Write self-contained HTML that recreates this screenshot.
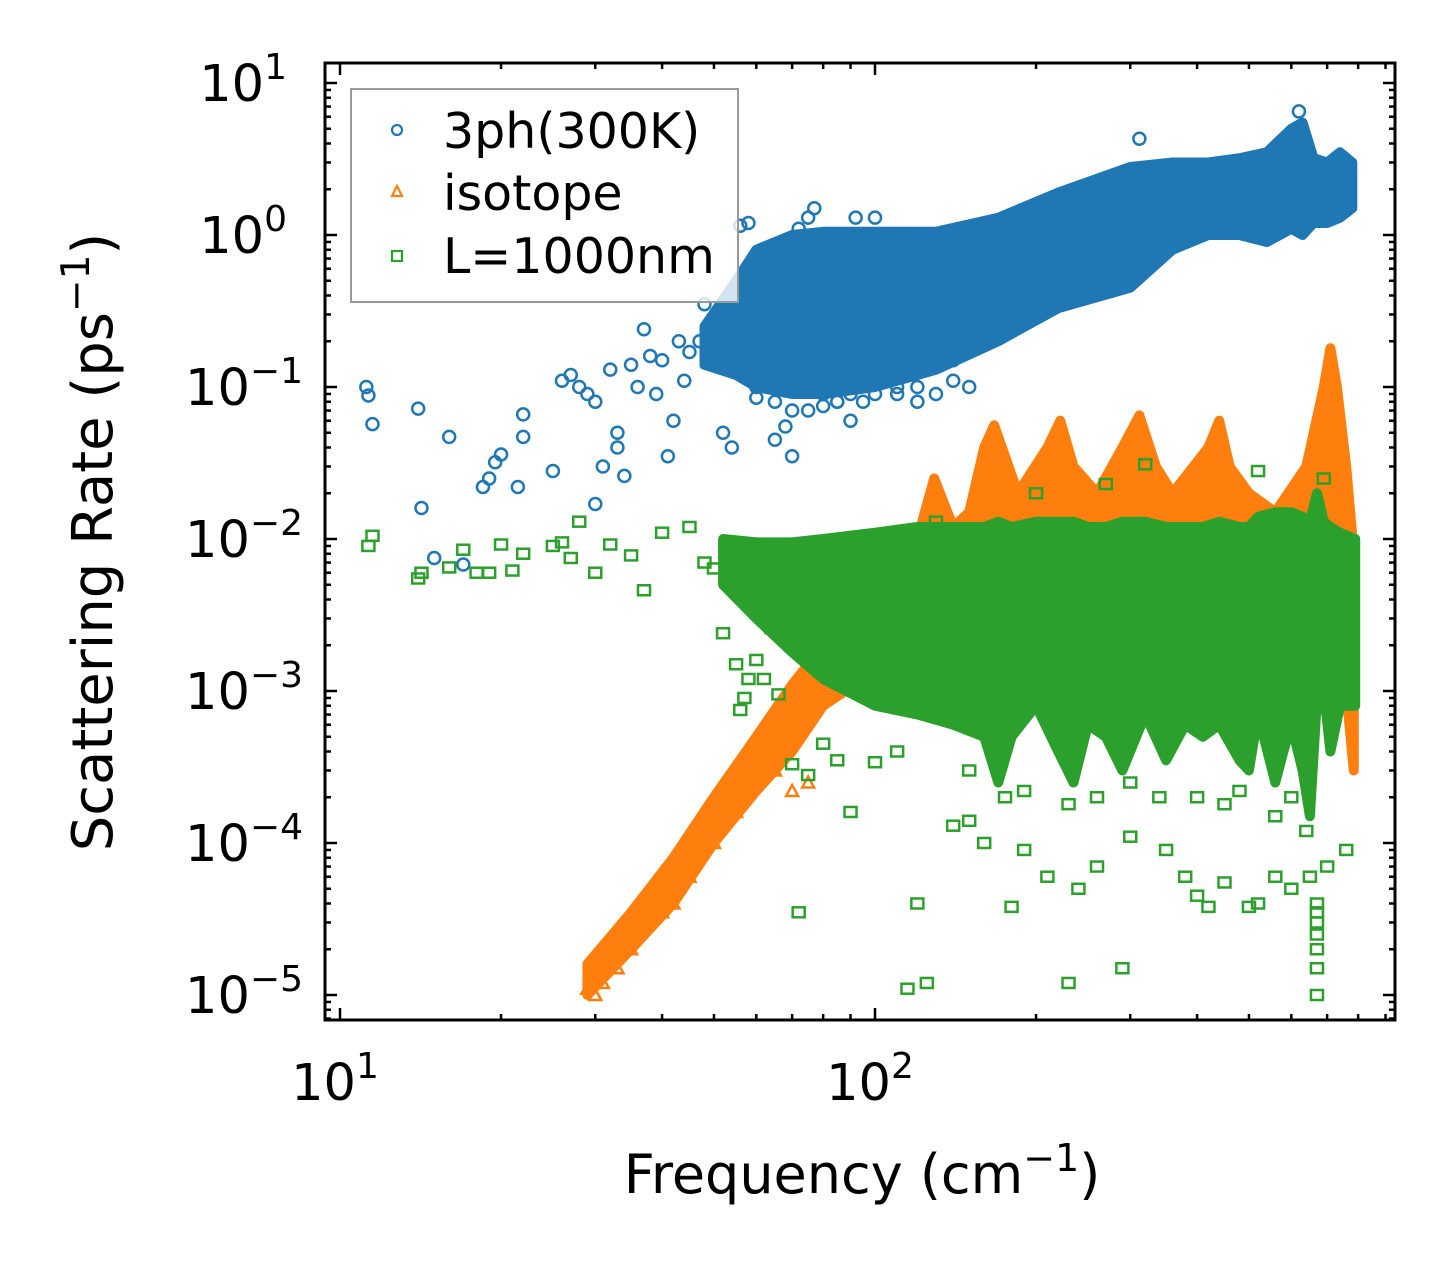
<!DOCTYPE html>
<html><head><meta charset="utf-8"><style>
body{margin:0;background:#fff}
svg text{font-family:"DejaVu Sans","Liberation Sans",sans-serif;fill:#000}
</style></head><body>
<svg id="chart" width="1455" height="1270" viewBox="0 0 1455 1270" xmlns="http://www.w3.org/2000/svg">
<rect width="1455" height="1270" fill="#fff"/>
<g id="bands"></g>
<g id="points"></g>
<g id="axes"></g>
<text x="862" y="1193" font-size="54" text-anchor="middle">Frequency (cm<tspan font-size="38" dy="-22">−1</tspan><tspan dy="22">)</tspan></text>
<text transform="translate(112,542) rotate(-90)" font-size="56" text-anchor="middle">Scattering Rate (ps<tspan font-size="39" dy="-23">−1</tspan><tspan dy="23">)</tspan></text>
<g>
<rect x="351" y="89" width="387" height="213" fill="#fff" fill-opacity="0.8" stroke="#999" stroke-width="2"/>
<circle cx="397" cy="130" r="5" fill="none" stroke="#1f77b4" stroke-width="2.2"/>
<text x="443" y="148" font-size="49">3ph(300K)</text>
<polygon points="397,186 402,196 392,196" fill="none" stroke="#ff7f0e" stroke-width="2.2"/>
<text x="443" y="210" font-size="49">isotope</text>
<rect x="392" y="251" width="10" height="10" fill="none" stroke="#2ca02c" stroke-width="2.2"/>
<text x="443" y="273" font-size="49">L=1000nm</text>
</g>
</svg>
<script>
// ---- data ----
const blueBandFreq=[48,55,60,70,80,100,130,170,220,300,360,420,480,540,600,630,660,700,740,780];
const blueBandHi=[0.25,0.5,0.8,1.0,1.05,1.05,1.05,1.3,1.9,2.8,3.0,3.0,3.2,3.5,5.0,5.5,3.2,3.0,3.5,3.0];
const blueBandLo=[0.14,0.12,0.1,0.09,0.09,0.1,0.13,0.2,0.33,0.45,0.8,1.0,1.0,0.9,1.1,1.0,1.2,1.2,1.3,1.5];
const orangeBandFreq=[29,35,42,50,60,70,80,95,110,120,129,140,150,160,167,175,185,210,222,235,260,290,312,335,360,420,440,460,500,560,640,690,710,730,760,785];
const orangeBandHi=[1.6e-5,3.5e-5,8e-5,2e-4,5e-4,1.1e-3,2e-3,3e-3,5e-3,0.01,0.025,0.012,0.015,0.04,0.056,0.035,0.02,0.04,0.06,0.03,0.02,0.04,0.065,0.03,0.02,0.04,0.06,0.03,0.02,0.015,0.03,0.1,0.18,0.1,0.03,0.008];
const orangeBandLo=[1e-5,2e-5,4e-5,1e-4,2.2e-4,4e-4,8e-4,1.2e-3,1.5e-3,1.5e-3,1.5e-3,1.5e-3,1.5e-3,1.5e-3,1.5e-3,1.5e-3,1.5e-3,1.5e-3,1.5e-3,1.5e-3,1.5e-3,1.5e-3,1.5e-3,1.5e-3,1.5e-3,1.5e-3,1.5e-3,1.5e-3,1.5e-3,1.5e-3,1.5e-3,1.5e-3,1.5e-3,1.5e-3,1e-3,3e-4];
const greenBandFreq=[52,60,70,80,100,120,140,160,170,180,200,220,235,250,270,290,320,350,380,410,440,480,500,520,560,580,600,630,650,670,690,710,740,790];
const greenBandHi=[0.01,0.0095,0.0095,0.01,0.011,0.012,0.012,0.012,0.013,0.012,0.013,0.013,0.013,0.012,0.012,0.013,0.013,0.012,0.012,0.012,0.013,0.012,0.012,0.014,0.015,0.015,0.015,0.014,0.013,0.02,0.013,0.012,0.011,0.01];
const greenBandLo=[0.005,0.003,0.0018,0.0012,0.0008,0.0007,0.0006,0.0005,0.00025,0.0005,0.0008,0.0004,0.00025,0.0006,0.0005,0.0003,0.0007,0.00035,0.0006,0.0005,0.0006,0.00035,0.0003,0.0007,0.00025,0.0004,0.0006,0.0003,0.00015,0.0009,0.001,0.0004,0.0008,0.0008];
const blueFreq=[11.2,11.3,11.5,14,14.2,16,17,15,18.5,19,19.5,20,21.5,22,22,25,26,27,28,29,30,30,31,32,33,33,34,35,36,37,38,39,40,41,42,43,44,45,47,48,50,52,54,55,56,58,60,62,65,68,70,72,75,77,80,85,90,92,100,110,120,140,312,620,60,65,70,75,80,85,90,95,100,110,120,130,140,150];
const blueRate=[0.1,0.088,0.057,0.072,0.016,0.047,0.0068,0.0075,0.022,0.025,0.032,0.036,0.022,0.047,0.066,0.028,0.11,0.12,0.1,0.09,0.08,0.017,0.03,0.13,0.05,0.04,0.026,0.14,0.1,0.24,0.16,0.09,0.15,0.035,0.06,0.2,0.11,0.17,0.2,0.35,0.26,0.05,0.04,0.13,1.15,1.2,0.085,0.15,0.045,0.055,0.035,1.1,1.3,1.5,0.09,0.08,0.06,1.3,1.3,0.1,0.08,0.15,4.3,6.5,0.1,0.08,0.07,0.07,0.075,0.08,0.09,0.08,0.09,0.09,0.1,0.09,0.11,0.1];
const orangeFreq=[29,30,31,33,35,37,40,42,45,50,55,60,65,70,75];
const orangeRate=[1.1e-5,1e-5,1.2e-5,1.5e-5,2e-5,3e-5,3.5e-5,4e-5,6e-5,1e-4,1.6e-4,2.5e-4,3e-4,2.2e-4,2.5e-4];
const greenFreq=[11.3,11.5,14,14.2,16,17,18,19,20,21,22,25,26,27,28,30,32,35,37,40,45,48,50,52,55,56,57,58,60,62,64,66,70,72,75,80,85,90,100,115,120,125,140,150,160,180,190,210,230,240,260,290,300,350,380,400,420,450,500,520,560,600,650,700,760,130,200,270,320,520,690,670,670,670,670,670,670,670,110,150,175,190,230,260,300,340,400,450,480,560,600,640];
const greenRate=[0.009,0.0105,0.0055,0.006,0.0065,0.0085,0.006,0.006,0.0092,0.0062,0.008,0.009,0.0095,0.0075,0.013,0.006,0.0092,0.0078,0.0046,0.011,0.012,0.007,0.0064,0.0024,0.0015,0.00075,0.0009,0.0012,0.0016,0.0012,0.0026,0.00095,0.00033,3.5e-5,0.00028,0.00045,0.00035,0.00016,0.00034,1.1e-5,4e-5,1.2e-5,1.3e-4,1.4e-4,1e-4,3.8e-5,9e-5,6e-5,1.2e-5,5e-5,7e-5,1.5e-5,1.1e-4,9e-5,6e-5,4.5e-5,3.8e-5,5.5e-5,3.8e-5,4e-5,6e-5,5e-5,6e-5,7e-5,9e-5,0.013,0.02,0.023,0.031,0.028,0.025,1e-5,1.5e-5,2e-5,2.5e-5,3e-5,3.5e-5,4e-5,0.0004,0.0003,0.0002,0.00022,0.00018,0.0002,0.00025,0.0002,0.0002,0.00018,0.00022,0.00015,0.0002,0.00012];
const xTickExp=[1,2];
const yTickExp=[1,0,-1,-2,-3,-4,-5];
// ---- scales ----
const L=325,R=1395,T=63,B=1020;
const X=f=>340+535*(Math.log10(f)-1);
const Y=v=>83+152*(1-Math.log10(v));
const NS="http://www.w3.org/2000/svg";
function mk(tag,attrs,parent){const e=document.createElementNS(NS,tag);for(const k in attrs)e.setAttribute(k,attrs[k]);parent.appendChild(e);return e;}
const bands=document.getElementById('bands'),pts=document.getElementById('points'),axes=document.getElementById('axes');
function band(fr,lo,hi,col,name){
  const p=[];fr.forEach((f,i)=>p.push(X(f).toFixed(1)+','+Y(hi[i]).toFixed(1)));
  for(let i=fr.length-1;i>=0;i--)p.push(X(fr[i]).toFixed(1)+','+Y(lo[i]).toFixed(1));
  const e=mk('polygon',{points:p.join(' '),fill:col,stroke:col,'stroke-width':10,'stroke-linejoin':'round'},bands);
  
  
}
band(blueBandFreq,blueBandLo,blueBandHi,'#1f77b4','band-3ph');
blueFreq.forEach((f,i)=>{const e=mk('circle',{cx:X(f),cy:Y(blueRate[i]),r:6,fill:'none',stroke:'#1f77b4','stroke-width':2.5},bands);
  
  });
band(orangeBandFreq,orangeBandLo,orangeBandHi,'#ff7f0e','band-isotope');
orangeFreq.forEach((f,i)=>{const x=X(f),y=Y(orangeRate[i]);const e=mk('polygon',{points:`${x},${y-6} ${x+6},${y+5} ${x-6},${y+5}`,fill:'none',stroke:'#ff7f0e','stroke-width':2.5},pts);
  
  });
band(greenBandFreq,greenBandLo,greenBandHi,'#2ca02c','band-boundary');
greenFreq.forEach((f,i)=>{const e=mk('rect',{x:X(f)-6,y:Y(greenRate[i])-5,width:12,height:10,fill:'none',stroke:'#2ca02c','stroke-width':2.5},pts);
  
  });
// ---- axes ----
const frame=mk('rect',{x:L,y:T,width:R-L,height:B-T,fill:'none',stroke:'#000','stroke-width':3},axes);


for(let d=0;d<=2;d++)for(let m=1;m<=9;m++){const f=m*Math.pow(10,d);const x=X(f);if(x<L||x>R)continue;const len=m===1?12:6;
  mk('line',{x1:x,y1:B,x2:x,y2:B-len,stroke:'#000','stroke-width':2.5},axes);mk('line',{x1:x,y1:T,x2:x,y2:T+len,stroke:'#000','stroke-width':2.5},axes);}
for(let d=-6;d<=1;d++)for(let m=1;m<=9;m++){const v=m*Math.pow(10,d);const y=Y(v);if(y<T||y>B)continue;const len=m===1?12:6;
  mk('line',{x1:L,y1:y,x2:L+len,y2:y,stroke:'#000','stroke-width':2.5},axes);mk('line',{x1:R,y1:y,x2:R-len,y2:y,stroke:'#000','stroke-width':2.5},axes);}
xTickExp.forEach(ex=>{const t=mk('text',{x:X(Math.pow(10,ex))-5,y:1100,'font-size':51,'text-anchor':'middle'},axes);
  
  
  t.innerHTML=`10<tspan font-size="36" dy="-22">${ex}</tspan>`;});
yTickExp.forEach(ex=>{const t=mk('text',{x:ex<0?303:287,y:Y(Math.pow(10,ex))+18,'font-size':51,'text-anchor':'end'},axes);
  
  
  t.innerHTML=`10<tspan font-size="36" dy="-22">${ex<0?'−'+(-ex):ex}</tspan>`;});
</script>
</body></html>
